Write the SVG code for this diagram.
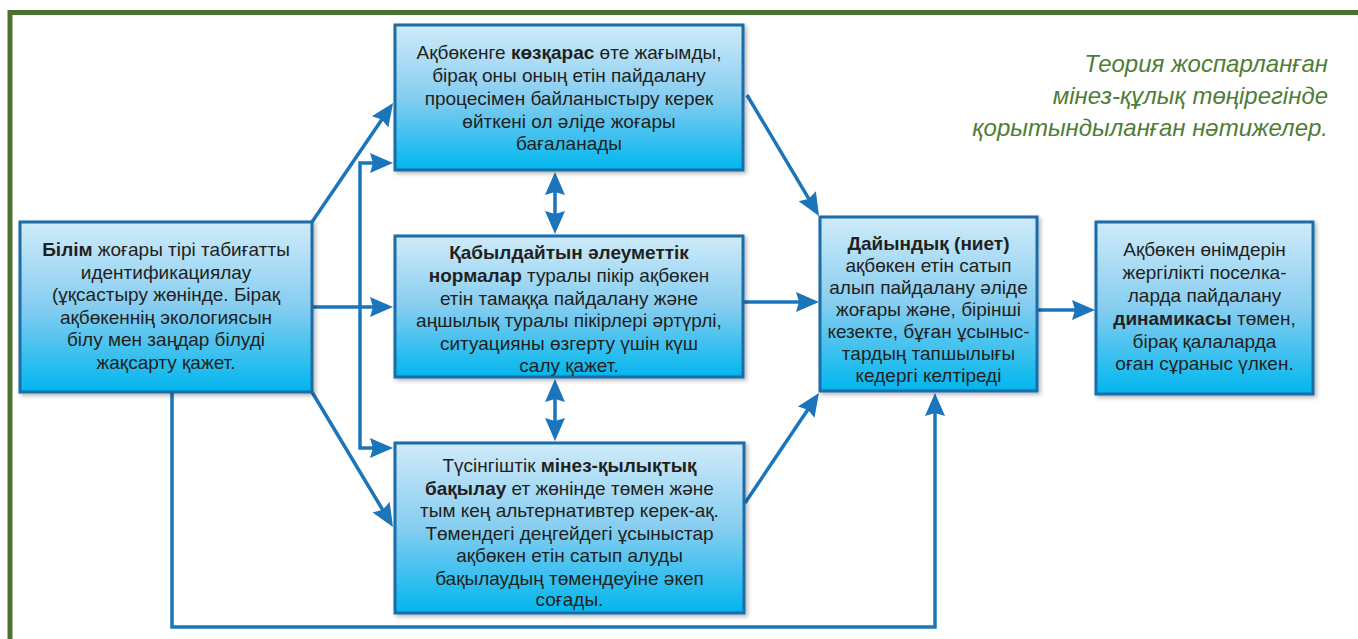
<svg xmlns="http://www.w3.org/2000/svg" width="1358" height="639" viewBox="0 0 1358 639">
<style>
.box{fill:url(#bg);stroke:#1d6ca8;stroke-width:3;filter:url(#sh)}
.t{font-family:"Liberation Sans",Arial,sans-serif;font-size:19px;fill:#231f20;text-anchor:middle}
.b{font-weight:bold}
.c{fill:none;stroke:#1b75bb;stroke-width:3.5;marker-end:url(#ah)}
.d{marker-start:url(#ah)}
.title{font-family:"Liberation Sans",Arial,sans-serif;font-size:24px;font-style:italic;fill:#4e7d36;text-anchor:end}
</style>
<defs>
<linearGradient id="bg" x1="0" y1="0" x2="0" y2="1">
<stop offset="0" stop-color="#cfebf9"/>
<stop offset="0.5" stop-color="#86cdf0"/>
<stop offset="1" stop-color="#00b6ee"/>
</linearGradient>
<filter id="sh" x="-5%" y="-5%" width="115%" height="115%">
<feDropShadow dx="2" dy="2" stdDeviation="2" flood-color="#000" flood-opacity="0.3"/>
</filter>
<marker id="ah" markerUnits="userSpaceOnUse" markerWidth="24" markerHeight="22" viewBox="0 0 24 22" refX="12" refY="11" orient="auto-start-reverse">
<path d="M1,1 L24,11 L1,21 L4,11 z" fill="#1b75bb"/>
</marker>
</defs>
<rect width="1358" height="639" fill="#ffffff"/>
<path d="M10,639 V12.5 H1358" fill="none" stroke="#4c7232" stroke-width="5"/>

<text class="title"><tspan x="1328" y="72">Теория жоспарланған</tspan><tspan x="1328" y="104">мінез-құлық төңірегінде</tspan><tspan x="1328" y="136">қорытындыланған нәтижелер.</tspan></text>

<g id="connectors">
<path class="c" d="M312,222 L386.3,112.9"/>
<path class="c d" d="M381,163 H360 V448 H381"/>
<path class="c" d="M312,307 H381"/>
<path class="c" d="M312,392 L386.8,516.7"/>
<path class="c" d="M172,392 V627 H935 V405"/>
<path class="c d" d="M555,184 V222"/>
<path class="c d" d="M555,391 V429"/>
<path class="c" d="M747,95 L812.9,205.7"/>
<path class="c" d="M743,302 H807"/>
<path class="c" d="M745,503 L812.3,403"/>
<path class="c" d="M1037,310 H1083"/>
</g>

<g id="node-bilim">
<rect class="box" x="20" y="222" width="292" height="170"/>
<text class="t"><tspan x="166" y="256"><tspan class="b">Білім</tspan> жоғары тірі табиғатты</tspan><tspan x="166" y="278.5">идентификациялау</tspan><tspan x="166" y="301">(ұқсастыру жөнінде. Бірақ</tspan><tspan x="166" y="323.5">ақбөкеннің экологиясын</tspan><tspan x="166" y="346">білу мен заңдар білуді</tspan><tspan x="166" y="368.5">жақсарту қажет.</tspan></text>
</g>

<g id="node-attitude">
<rect class="box" x="395" y="25" width="348" height="145"/>
<text class="t"><tspan x="569" y="59"><tspan>Ақбөкенге </tspan><tspan class="b">көзқарас</tspan> өте жағымды,</tspan><tspan x="569" y="82">бірақ оны оның етін пайдалану</tspan><tspan x="569" y="105">процесімен байланыстыру керек</tspan><tspan x="569" y="128">өйткені ол әліде жоғары</tspan><tspan x="569" y="150">бағаланады</tspan></text>
</g>

<g id="node-norms">
<rect class="box" x="395" y="236" width="348" height="141"/>
<text class="t"><tspan x="569" y="259" class="b">Қабылдайтын әлеуметтік</tspan><tspan x="569" y="282"><tspan class="b">нормалар</tspan> туралы пікір ақбөкен</tspan><tspan x="569" y="304.5">етін тамаққа пайдалану және</tspan><tspan x="569" y="327">аңшылық туралы пікірлері әртүрлі,</tspan><tspan x="569" y="349.5">ситуацияны өзгерту үшін күш</tspan><tspan x="569" y="372">салу қажет.</tspan></text>
</g>

<g id="node-control">
<rect class="box" x="395" y="443" width="349" height="170"/>
<text class="t"><tspan x="569.5" y="472">Түсінгіштік <tspan class="b">мінез-қылықтық</tspan></tspan><tspan x="569.5" y="494.5"><tspan class="b">бақылау</tspan> ет жөнінде төмен және</tspan><tspan x="569.5" y="517">тым кең альтернативтер керек-ақ.</tspan><tspan x="569.5" y="539.5">Төмендегі деңгейдегі ұсыныстар</tspan><tspan x="569.5" y="562">ақбөкен етін сатып алуды</tspan><tspan x="569.5" y="584.5">бақылаудың төмендеуіне әкеп</tspan><tspan x="569.5" y="606">соғады.</tspan></text>
</g>

<g id="node-intention">
<rect class="box" x="820" y="217" width="217" height="174"/>
<text class="t"><tspan x="928.5" y="250" class="b">Дайындық (ниет)</tspan><tspan x="928.5" y="272">ақбөкен етін сатып</tspan><tspan x="928.5" y="294">алып пайдалану әліде</tspan><tspan x="928.5" y="316">жоғары және, бірінші</tspan><tspan x="928.5" y="338">кезекте, бұған ұсыныс-</tspan><tspan x="928.5" y="360">тардың тапшылығы</tspan><tspan x="928.5" y="382">кедергі келтіреді</tspan></text>
</g>

<g id="node-dynamics">
<rect class="box" x="1096" y="222" width="217" height="172"/>
<text class="t"><tspan x="1204.5" y="256">Ақбөкен өнімдерін</tspan><tspan x="1204.5" y="279">жергілікті поселка-</tspan><tspan x="1204.5" y="302">ларда пайдалану</tspan><tspan x="1204.5" y="325"><tspan class="b">динамикасы</tspan> төмен,</tspan><tspan x="1204.5" y="347.5">бірақ қалаларда</tspan><tspan x="1204.5" y="370">оған сұраныс үлкен.</tspan></text>
</g>
</svg>
